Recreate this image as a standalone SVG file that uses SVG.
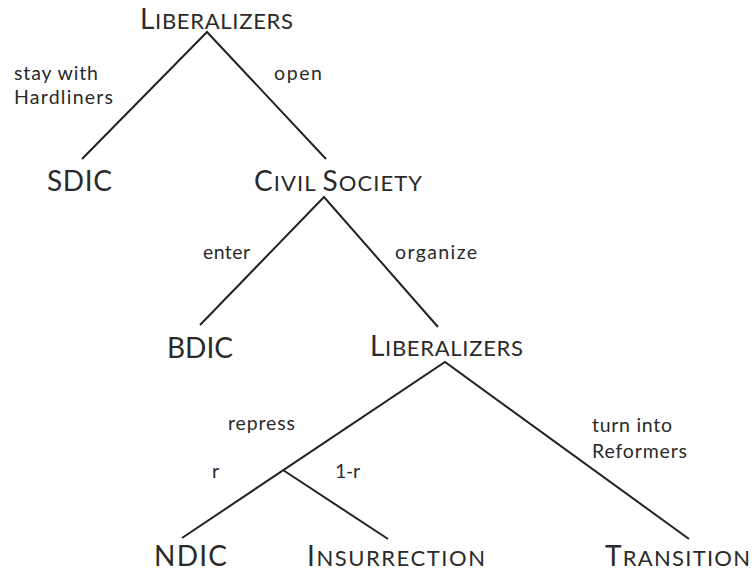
<svg xmlns="http://www.w3.org/2000/svg" width="754" height="572" viewBox="0 0 754 572">
<style>
.edge{fill:none;stroke:#222;stroke-width:2;stroke-linejoin:miter;stroke-miterlimit:10}
.node{font-family:Lato,"Open Sans","Liberation Sans",sans-serif;fill:#2a2a2a;font-size:28px}
.sc{font-size:22px}
.lbl{font-family:Lato,"Open Sans","Liberation Sans",sans-serif;fill:#2a2a2a;font-size:19.5px}
</style>
<rect width="754" height="572" fill="#fff"/>
<g id="connectors">
<path class="edge" d="M82,159 L207,32 L326,159"/>
<path class="edge" d="M200,325 L324,197 L438,327"/>
<path class="edge" d="M182,538 L445,362 L689,539"/>
<path class="edge" d="M283,470 L388,539"/>
</g>
<g id="edge-labels">
<text class="lbl" x="14" y="80" textLength="84" lengthAdjust="spacing">stay with</text>
<text class="lbl" x="14" y="104" textLength="99" lengthAdjust="spacing">Hardliners</text>
<text class="lbl" x="274" y="80" textLength="48" lengthAdjust="spacing">open</text>
<text class="lbl" x="203" y="259" textLength="47" lengthAdjust="spacing">enter</text>
<text class="lbl" x="395" y="259" textLength="82" lengthAdjust="spacing">organize</text>
<text class="lbl" x="228" y="430" textLength="67" lengthAdjust="spacing">repress</text>
<text class="lbl" x="592" y="432" textLength="80" lengthAdjust="spacing">turn into</text>
<text class="lbl" x="592" y="458" textLength="95" lengthAdjust="spacing">Reformers</text>
<text class="lbl" x="212" y="478">r</text>
<text class="lbl" x="335" y="478" textLength="25" lengthAdjust="spacing">1-r</text>
</g>
<g id="n-liberalizers-1"><text class="node" x="140" y="28.5" textLength="153" lengthAdjust="spacing"><tspan>L</tspan><tspan class="sc">IBERALIZERS</tspan></text></g>
<g id="n-sdic"><text class="node" x="47" y="191" textLength="65" lengthAdjust="spacing">SDIC</text></g>
<g id="n-civil-society"><text class="node" x="254" y="191" textLength="168" lengthAdjust="spacing"><tspan>C</tspan><tspan class="sc">IVIL </tspan><tspan>S</tspan><tspan class="sc">OCIETY</tspan></text></g>
<g id="n-bdic"><text class="node" x="167" y="358" textLength="66" lengthAdjust="spacing">BDIC</text></g>
<g id="n-liberalizers-2"><text class="node" x="370" y="356" textLength="153" lengthAdjust="spacing"><tspan>L</tspan><tspan class="sc">IBERALIZERS</tspan></text></g>
<g id="n-ndic"><text class="node" x="154" y="565.5" textLength="73" lengthAdjust="spacing">NDIC</text></g>
<g id="n-insurrection"><text class="node" x="307" y="565.5" textLength="178" lengthAdjust="spacing"><tspan>I</tspan><tspan class="sc">NSURRECTION</tspan></text></g>
<g id="n-transition"><text class="node" x="605" y="565.5" textLength="145" lengthAdjust="spacing"><tspan>T</tspan><tspan class="sc">RANSITION</tspan></text></g>
</svg>
